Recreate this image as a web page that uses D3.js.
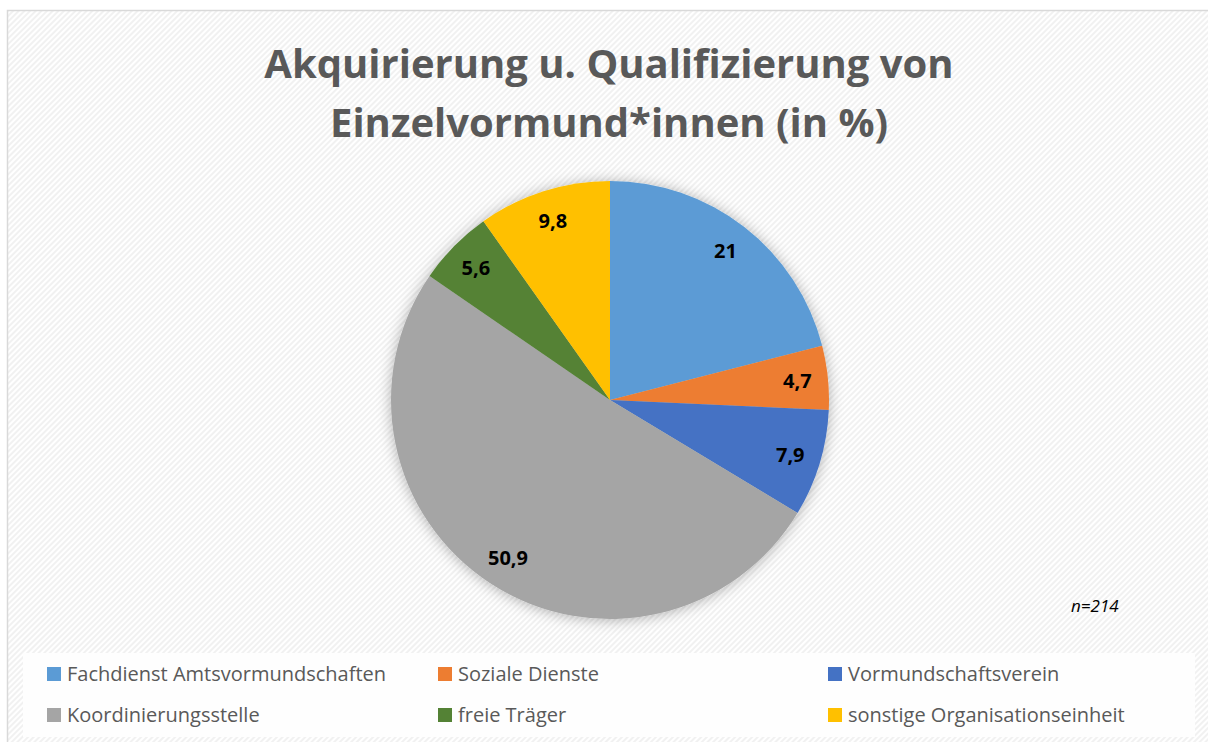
<!DOCTYPE html>
<html>
<head>
<meta charset="utf-8">
<script src="https://cdn.jsdelivr.net/npm/d3@7"></script>
<style>
  body { margin: 0; background: #fff; }
  svg { display: block; font-family: "Open Sans", "Noto Sans", sans-serif; }
</style>
</head>
<body>
<div id="chart"></div>
<script>
// Chart data
var categories = ["Fachdienst Amtsvormundschaften", "Soziale Dienste", "Vormundschaftsverein",
                  "Koordinierungsstelle", "freie Träger", "sonstige Organisationseinheit"];
var values = [21, 4.7, 7.9, 50.9, 5.6, 9.8];
var colors = ["#5B9BD5", "#ED7D31", "#4472C4", "#A5A5A5", "#548235", "#FFC000"];
var titleLines = ["Akquirierung u. Qualifizierung von", "Einzelvormund*innen (in %)"];
var note = "n=214";

var svg_dx = 1208, svg_dy = 742;
var cx = 610, cy = 400, radius = 219;

var svg = d3.select("#chart")
            .append("svg")
            .attr("width", svg_dx)
            .attr("height", svg_dy);

var defs = svg.append("defs");

// diagonal hatch background
var pat = defs.append("pattern")
              .attr("id", "hatch")
              .attr("width", 4)
              .attr("height", 4)
              .attr("patternUnits", "userSpaceOnUse")
              .attr("patternTransform", "rotate(45)");
pat.append("rect").attr("width", 4).attr("height", 4).attr("fill", "#ffffff");
pat.append("rect").attr("width", 2).attr("height", 4).attr("fill", "#f1f1f1");

var shadow = defs.append("filter")
                 .attr("id", "shadow")
                 .attr("x", "-20%").attr("y", "-20%")
                 .attr("width", "140%").attr("height", "140%");
shadow.append("feDropShadow")
      .attr("dx", 0).attr("dy", 1)
      .attr("stdDeviation", 7)
      .attr("flood-color", "#000")
      .attr("flood-opacity", 0.3);

// Chart area with border
svg.append("rect")
   .attr("x", 7.5).attr("y", 10.5)
   .attr("width", svg_dx).attr("height", svg_dy)
   .attr("fill", "url(#hatch)")
   .attr("stroke", "#d9d9d9")
   .attr("stroke-width", 1.5);

// Title
svg.append("text")
   .attr("x", 609)
   .attr("text-anchor", "middle")
   .style("font-weight", "bold")
   .style("font-size", "40px")
   .style("fill", "#595959")
   .selectAll("tspan")
   .data(titleLines)
   .enter()
   .append("tspan")
   .attr("x", 609)
   .attr("y", function(d, i) { return 78 + i * 59; })
   .text(function(d) { return d; });

// Pie
var pie = d3.pie().sort(null).value(function(d) { return d; });
var arcs = pie(values);
var arc = d3.arc().innerRadius(0).outerRadius(radius);
var labelArc = d3.arc().innerRadius(radius * 0.86).outerRadius(radius * 0.86);

var fmt = d3.formatLocale({decimal: ",", thousands: ".", grouping: [3], currency: ["", "€"]})
            .format(".1~f");

var g = svg.append("g")
           .attr("transform", "translate(" + cx + "," + cy + ")");

g.append("g")
 .attr("filter", "url(#shadow)")
 .selectAll("path")
 .data(arcs)
 .enter()
 .append("path")
 .attr("d", arc)
 .attr("fill", function(d, i) { return colors[i]; });

g.selectAll(".lbl")
 .data(arcs)
 .enter()
 .append("text")
 .attr("class", "lbl")
 .attr("transform", function(d) { return "translate(" + labelArc.centroid(d) + ")"; })
 .attr("text-anchor", "middle")
 .attr("dy", "0.35em")
 .style("font-weight", "bold")
 .style("font-size", "20px")
 .style("fill", "#000")
 .text(function(d) { return fmt(d.value); });

// note
svg.append("text")
   .attr("x", 1071)
   .attr("y", 612)
   .style("font-style", "italic")
   .style("font-size", "17px")
   .style("fill", "#000")
   .text(note);

// Legend
svg.append("rect")
   .attr("x", 23).attr("y", 653)
   .attr("width", 1172).attr("height", 84)
   .attr("fill", "#fefefe");

var colX = [47, 438, 828];
var rowY = [674, 715];

var leg = svg.selectAll(".leg")
             .data(categories)
             .enter()
             .append("g")
             .attr("class", "leg")
             .attr("transform", function(d, i) {
                 return "translate(" + colX[i % 3] + "," + rowY[Math.floor(i / 3)] + ")";
             });

leg.append("rect")
   .attr("x", 0).attr("y", -7)
   .attr("width", 14).attr("height", 14)
   .attr("fill", function(d, i) { return colors[i]; });

leg.append("text")
   .attr("x", 20)
   .attr("dy", "0.35em")
   .style("font-size", "20px")
   .style("fill", "#595959")
   .text(function(d) { return d; });
</script>
</body>
</html>
